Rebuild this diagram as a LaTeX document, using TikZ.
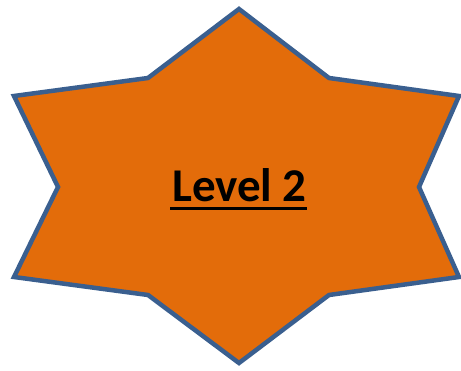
\documentclass[tikz,border=0pt]{standalone}
\usepackage{fontspec}
\setmainfont{Carlito}
\definecolor{starfill}{HTML}{E36C0A}
\definecolor{starline}{HTML}{3A5F8F}
\tikzset{
  star6/.style={draw=starline, fill=starfill, line width=4.5pt, line join=miter, miter limit=10},
  lbl/.style={inner sep=0pt, font=\fontsize{47}{50}\selectfont\bfseries, anchor=base},
  uline/.style={line width=3pt}
}
\begin{document}
\begin{tikzpicture}[x=1pt,y=-1pt]
\useasboundingbox (0,0) rectangle (461,371);
\draw[star6] (239,9) -- (329,78) -- (459,96) -- (419,187) -- (459,277) -- (329,295)
  -- (239,363) -- (148,295) -- (14,277) -- (58,187) -- (14,96) -- (148,78) -- cycle;
\node[lbl] (t) at (239.5,202) {Level 2};
\coordinate (ua) at (170,209);
\coordinate (ub) at (307,209);
\draw[uline] (ua) -- (ub);
\end{tikzpicture}
\end{document}
